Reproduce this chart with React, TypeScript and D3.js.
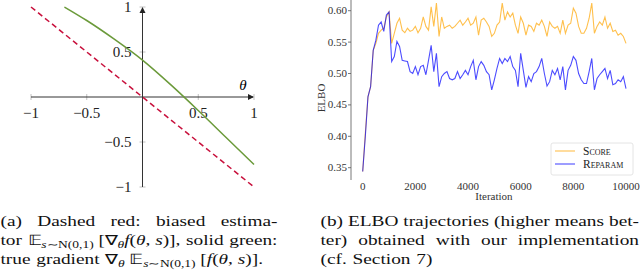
import { useRef, useEffect } from 'react';
import * as d3 from 'd3';

// left panel: gradient estimators
const thetaTicks = [-1, -0.5, 0.5, 1];
const valueTicks = [-1, -0.5, 0.5, 1];
const estTheta = [-1, 1];
const estValues = [1, -1];
const trueTheta = [-0.7, -0.5, -0.25, 0, 0.25, 0.5, 0.75, 1];
const trueValues = [1.0, 0.85, 0.64, 0.41, 0.14, -0.15, -0.45, -0.75];

// right panel: ELBO trajectories, one value every 100 iterations
const iterStep = 100;
const scoreElbo = [
  0.344, 0.405, 0.463, 0.479, 0.537, 0.548, 0.564, 0.569, 0.572, 0.590,
  0.598, 0.548, 0.564, 0.580, 0.588, 0.569, 0.565, 0.572, 0.567, 0.569,
  0.575, 0.565, 0.572, 0.590, 0.575, 0.569, 0.606, 0.575, 0.612, 0.559,
  0.590, 0.572, 0.575, 0.577, 0.572, 0.575, 0.580, 0.585, 0.577, 0.582,
  0.588, 0.577, 0.580, 0.590, 0.561, 0.585, 0.588, 0.582, 0.575, 0.559,
  0.564, 0.577, 0.582, 0.612, 0.585, 0.598, 0.590, 0.596, 0.577, 0.564,
  0.590, 0.580, 0.561, 0.577, 0.575, 0.567, 0.580, 0.577, 0.585, 0.575,
  0.559, 0.582, 0.575, 0.572, 0.575, 0.564, 0.585, 0.564, 0.577, 0.580,
  0.604, 0.596, 0.575, 0.564, 0.564, 0.572, 0.588, 0.612, 0.564, 0.575,
  0.582, 0.577, 0.590, 0.572, 0.580, 0.567, 0.569, 0.561, 0.564, 0.559,
  0.548,
];
const reparamElbo = [
  0.344, 0.400, 0.463, 0.479, 0.537, 0.553, 0.577, 0.582, 0.567, 0.593,
  0.598, 0.519, 0.527, 0.551, 0.543, 0.521, 0.520, 0.519, 0.503, 0.500,
  0.511, 0.498, 0.511, 0.513, 0.498, 0.521, 0.545, 0.503, 0.532, 0.479,
  0.495, 0.500, 0.503, 0.492, 0.490, 0.492, 0.503, 0.492, 0.498, 0.505,
  0.498, 0.511, 0.521, 0.490, 0.511, 0.519, 0.513, 0.503, 0.498, 0.474,
  0.490, 0.508, 0.524, 0.516, 0.524, 0.519, 0.527, 0.511, 0.505, 0.479,
  0.532, 0.505, 0.478, 0.495, 0.487, 0.500, 0.503, 0.511, 0.524, 0.500,
  0.480, 0.487, 0.505, 0.498, 0.508, 0.490, 0.511, 0.474, 0.505, 0.513,
  0.527, 0.521, 0.500, 0.490, 0.484, 0.484, 0.503, 0.524, 0.474, 0.492,
  0.498, 0.503, 0.508, 0.492, 0.505, 0.482, 0.484, 0.490, 0.487, 0.495,
  0.476,
];
const elboTicks = [0.35, 0.40, 0.45, 0.50, 0.55, 0.60];
const iterTicks = [0, 2000, 4000, 6000, 8000, 10000];

type Seg = { t: string; sub?: boolean; it?: boolean };
type Word = Seg[];
const w = (s: string): Word => [{ t: s }];
const expect: Word = [{ t: '𝔼' }, { t: 's', sub: true, it: true }, { t: '∼N(0,1)', sub: true }];
const nabla: Word = [{ t: '∇' }, { t: 'θ', sub: true, it: true }];

const captionA: Word[][] = [
  [w('(a)'), w('Dashed'), w('red:'), w('biased'), w('estima-')],
  [w('tor'), [...expect, { t: ' [∇' }, { t: 'θ', sub: true, it: true }, { t: 'f', it: true }, { t: '(' }, { t: 'θ', it: true }, { t: ', ' }, { t: 's', it: true }, { t: ')],' }], w('solid'), w('green:')],
  [w('true'), w('gradient'), [...nabla, { t: ' ' }, ...expect, { t: ' [' }, { t: 'f', it: true }, { t: '(' }, { t: 'θ', it: true }, { t: ', ' }, { t: 's', it: true }, { t: ')].' }]],
];
const captionB: Word[][] = [
  [w('(b)'), w('ELBO'), w('trajectories'), w('(higher'), w('means'), w('bet-')],
  [w('ter)'), w('obtained'), w('with'), w('our'), w('implementation')],
  [w('(cf.'), w('Section'), w('7)')],
];

const serif = 'Liberation Serif';

const App = () => {
  const ref = useRef<SVGSVGElement>(null);

  useEffect(() => {
    const svg = d3.select(ref.current);
    svg.selectAll('*').remove();

    // ---------- left panel ----------
    const x = d3.scaleLinear().domain([-1, 1]).range([31, 254]);
    const y = d3.scaleLinear().domain([-1, 1]).range([187, 7]);
    const left = svg.append('g');

    left.selectAll('.xt').data(thetaTicks).join('line')
      .attr('x1', d => x(d)).attr('x2', d => x(d))
      .attr('y1', y(0) - 3).attr('y2', y(0) + 3)
      .attr('stroke', '#b0b0b0').attr('stroke-width', 0.8);
    left.selectAll('.yt').data(valueTicks).join('line')
      .attr('x1', x(0) - 3).attr('x2', x(0) + 3)
      .attr('y1', d => y(d)).attr('y2', d => y(d))
      .attr('stroke', '#b0b0b0').attr('stroke-width', 0.8);

    // axes with arrows
    left.append('line').attr('x1', x(-1)).attr('x2', x(1) - 1).attr('y1', y(0)).attr('y2', y(0))
      .attr('stroke', '#333').attr('stroke-width', 1);
    left.append('line').attr('x1', x(0)).attr('x2', x(0)).attr('y1', y(-1)).attr('y2', y(1) + 1)
      .attr('stroke', '#333').attr('stroke-width', 1);
    left.append('path')
      .attr('d', `M${x(1) - 6},${y(0) - 3} L${x(1)},${y(0)} L${x(1) - 6},${y(0) + 3} Z`)
      .attr('fill', '#222');
    left.append('path')
      .attr('d', `M${x(0) - 3},${y(1) + 6} L${x(0)},${y(1)} L${x(0) + 3},${y(1) + 6} Z`)
      .attr('fill', '#222');

    const fmt = (d: number) => String(d).replace('-', '−');
    left.selectAll('.xl').data(thetaTicks).join('text')
      .attr('x', d => x(d)).attr('y', y(0) + 21)
      .attr('text-anchor', 'middle').style('font-family', serif).attr('font-size', 15).attr('fill', '#222')
      .text(d => fmt(d));
    left.selectAll('.yl').data(valueTicks).join('text')
      .attr('x', x(0) - 11).attr('y', d => y(d) + 5)
      .attr('text-anchor', 'end').style('font-family', serif).attr('font-size', 15).attr('fill', '#222')
      .text(d => fmt(d));
    left.append('text').attr('x', 243).attr('y', 90).attr('text-anchor', 'middle')
      .style('font-family', serif).attr('font-size', 15).attr('font-style', 'italic').text('θ');

    const lineL = d3.line<number>().curve(d3.curveMonotoneX);
    left.append('path')
      .attr('d', lineL.x(d => x(d)).y((_, i) => y(estValues[i]))(estTheta))
      .attr('fill', 'none').attr('stroke', '#c8103c').attr('stroke-width', 1.5)
      .attr('stroke-dasharray', '5.5,3.5');
    left.append('path')
      .attr('d', lineL.x(d => x(d)).y((_, i) => y(trueValues[i]))(trueTheta))
      .attr('fill', 'none').attr('stroke', '#6b9a3a').attr('stroke-width', 1.5);

    // ---------- right panel ----------
    const xr = d3.scaleLinear().domain([0, 10000]).range([362.7, 626]);
    const yr = d3.scaleLinear().domain([0.35, 0.60]).range([167.7, 10.7]);
    const right = svg.append('g');

    right.append('line').attr('x1', 351).attr('x2', 351).attr('y1', 0).attr('y2', 180)
      .attr('stroke', '#555').attr('stroke-width', 0.8);
    right.selectAll('.ryt').data(elboTicks).join('line')
      .attr('x1', 348).attr('x2', 351).attr('y1', d => yr(d)).attr('y2', d => yr(d))
      .attr('stroke', '#555').attr('stroke-width', 0.8);
    right.selectAll('.ryl').data(elboTicks).join('text')
      .attr('x', 347).attr('y', d => yr(d) + 3.5).attr('text-anchor', 'end')
      .style('font-family', serif).attr('font-size', 11).attr('fill', '#333')
      .text(d => d3.format('.2f')(d));
    right.selectAll('.rxl').data(iterTicks).join('text')
      .attr('x', d => xr(d)).attr('y', 190).attr('text-anchor', 'middle')
      .style('font-family', serif).attr('font-size', 11).attr('fill', '#333')
      .text(d => String(d));
    right.append('text').attr('transform', 'translate(325,98) rotate(-90)')
      .attr('text-anchor', 'middle').style('font-family', serif).attr('font-size', 11)
      .attr('fill', '#333').text('ELBO');
    right.append('text').attr('x', 494).attr('y', 200).attr('text-anchor', 'middle')
      .style('font-family', serif).attr('font-size', 11).attr('fill', '#333').text('Iteration');

    const lineR = d3.line<number>()
      .x((_, i) => xr(i * iterStep)).y(d => yr(d));
    right.append('path').attr('d', lineR(scoreElbo))
      .attr('fill', 'none').attr('stroke', 'orange').attr('stroke-opacity', 0.7).attr('stroke-width', 1.1);
    right.append('path').attr('d', lineR(reparamElbo))
      .attr('fill', 'none').attr('stroke', 'blue').attr('stroke-opacity', 0.7).attr('stroke-width', 1.1);

    // legend
    const lg = right.append('g');
    lg.append('rect').attr('x', 551).attr('y', 143).attr('width', 82).attr('height', 32).attr('rx', 2)
      .attr('fill', 'white').attr('fill-opacity', 0.8).attr('stroke', '#ddd').attr('stroke-width', 0.8);
    [['Score', 'orange', 151], ['Reparam', 'blue', 164]].forEach(([label, col, ly]) => {
      lg.append('line').attr('x1', 555).attr('x2', 575).attr('y1', ly).attr('y2', ly)
        .attr('stroke', col as string).attr('stroke-opacity', 0.7).attr('stroke-width', 1.1);
      lg.append('text').attr('x', 583).attr('y', (ly as number) + 4)
        .style('font-family', serif).attr('font-size', 11.5)
        .style('font-variant', 'small-caps').attr('fill', '#222').text(label as string);
    });

    // ---------- captions ----------
    const fs = 14;
    const sx = 1.38;
    const drawCaption = (lines: Word[][], x0: number, width: number) => {
      const g = svg.append('g').attr('transform', `scale(${sx},1)`).attr('fill', '#111');
      lines.forEach((words, li) => {
        const base = 226 + li * 19;
        const nodes = words.map(word => {
          const t = g.append('text').attr('y', base)
            .style('font-family', serif).attr('font-size', fs)
            .attr('xml:space', 'preserve');
          let shift = 0;
          word.forEach(seg => {
            const target = seg.sub ? 3.5 : 0;
            t.append('tspan').attr('dy', target - shift)
              .attr('font-size', seg.sub ? fs * 0.7 : fs)
              .attr('font-style', seg.it ? 'italic' : null)
              .text(seg.t);
            shift = target;
          });
          return t;
        });
        const widths = nodes.map(n => (n.node() as SVGTextElement).getComputedTextLength());
        const total = d3.sum(widths);
        const justify = li < lines.length - 1;
        const gap = justify ? (width / sx - total) / (nodes.length - 1) : fs * 0.3;
        let cx = x0 / sx;
        nodes.forEach((n, i) => { n.attr('x', cx); cx += widths[i] + gap; });
      });
    };
    drawCaption(captionA, 0.5, 277);
    drawCaption(captionB, 320.5, 318.5);
  }, []);

  return (
    <svg ref={ref} width={640} height={276}
      style={{ position: 'absolute', left: 0, top: 0, background: 'white' }} />
  );
};

export default App;
